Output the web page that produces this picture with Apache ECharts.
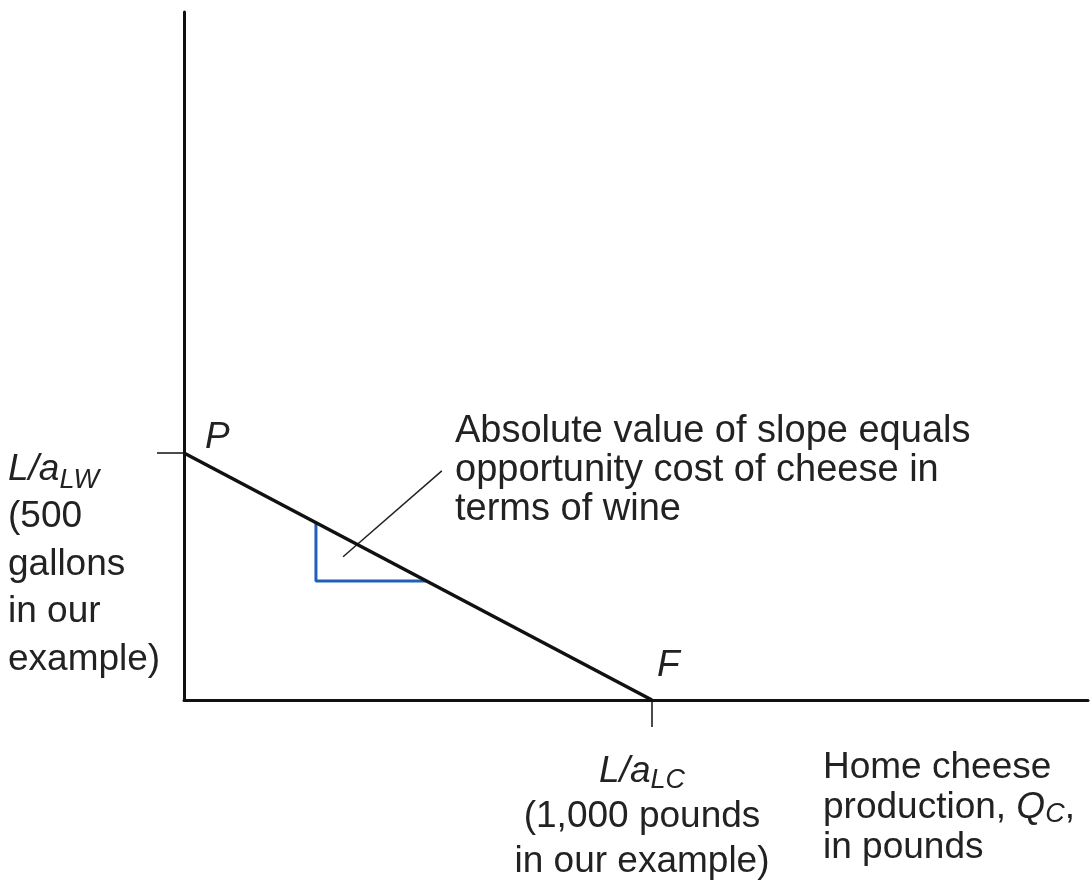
<!DOCTYPE html>
<html>
<head>
<meta charset="utf-8">
<script src="https://cdn.jsdelivr.net/npm/echarts@6/dist/echarts.min.js"></script>
<style>
  html, body { margin: 0; padding: 0; background: #fff; }
  #chart { width: 1090px; height: 882px; }
</style>
</head>
<body>
<div id="chart"></div>
<script>
// production possibility frontier, Home (cheese on x, wine on y)
const ppf = [[0, 500], [1000, 0]];
// blue slope triangle under the frontier
const slopeTriangle = [[282, 359], [282, 241], [518, 241]];
// leader line from the annotation to the triangle
const leader = [[340, 290], [551, 464]];
const xTicks = [1000];
const yTicks = [500];
const xMax = 1932;
const yMax = 1393;

const font = '"Liberation Sans", Arial, Helvetica, sans-serif';
const fs = 37;

const chart = echarts.init(document.getElementById('chart'));

const option = {
  backgroundColor: '#fff',
  animation: false,
  grid: { left: 184, right: 2, top: 12, bottom: 182 },
  xAxis: {
    type: 'value',
    min: 0,
    max: xMax,
    splitLine: { show: false },
    axisLine: { show: true, lineStyle: { color: '#111', width: 3 } },
    axisTick: { show: true, customValues: xTicks, length: 27, lineStyle: { color: '#111', width: 1.5 } },
    axisLabel: { show: false }
  },
  yAxis: {
    type: 'value',
    min: 0,
    max: yMax,
    splitLine: { show: false },
    axisLine: { show: true, lineStyle: { color: '#111', width: 3 } },
    axisTick: { show: true, customValues: yTicks, length: 27, lineStyle: { color: '#111', width: 1.5 } },
    axisLabel: { show: false }
  },
  series: [
    {
      type: 'line',
      data: ppf,
      symbol: 'none',
      lineStyle: { color: '#111', width: 3.5 },
      z: 5
    },
    {
      type: 'line',
      data: slopeTriangle,
      symbol: 'none',
      lineStyle: { color: '#1f5fb8', width: 3 },
      z: 3
    },
    {
      type: 'line',
      data: leader,
      symbol: 'none',
      lineStyle: { color: '#222', width: 1.5 },
      z: 4
    }
  ],
  graphic: [
    {
      type: 'text', left: 455, top: 412,
      style: {
        text: 'Absolute value of slope equals\nopportunity cost of cheese in\nterms of wine',
        font: '38px ' + font, fill: '#222', lineHeight: 39
      }
    },
    {
      type: 'text', left: 205, top: 419,
      style: { text: 'P', font: 'italic ' + fs + 'px ' + font, fill: '#222' }
    },
    {
      type: 'text', left: 657, top: 647,
      style: { text: 'F', font: 'italic ' + fs + 'px ' + font, fill: '#222' }
    },
    {
      type: 'text', left: 8, top: 446,
      style: {
        text: '{i|L/a}{s|LW}\n(500\ngallons\nin our\nexample)',
        font: fs + 'px ' + font, fill: '#222', lineHeight: 47.5,
        rich: {
          i: { fontStyle: 'italic', fontSize: fs, fontFamily: font, lineHeight: 47.5, fill: '#222' },
          s: { fontStyle: 'italic', fontSize: 27, fontFamily: font, lineHeight: 22, verticalAlign: 'bottom', fill: '#222' }
        }
      }
    },
    {
      type: 'text', x: 642, y: 749,
      style: {
        text: '{i|L/a}{s|LC}\n(1,000 pounds\nin our example)',
        font: fs + 'px ' + font, fill: '#222', lineHeight: 45, align: 'center',
        rich: {
          i: { fontStyle: 'italic', fontSize: fs, fontFamily: font, lineHeight: 45, fill: '#222' },
          s: { fontStyle: 'italic', fontSize: 27, fontFamily: font, lineHeight: 20, verticalAlign: 'bottom', fill: '#222' }
        }
      }
    },
    {
      type: 'text', left: 823, top: 748,
      style: {
        text: 'Home cheese\n{n|production, }{i|Q}{s|C}{n|,}\nin pounds',
        font: fs + 'px ' + font, fill: '#222', lineHeight: 40,
        rich: {
          n: { fontSize: fs, fontFamily: font, lineHeight: 40, fill: '#222' },
          i: { fontStyle: 'italic', fontSize: fs, fontFamily: font, lineHeight: 40, fill: '#222' },
          s: { fontStyle: 'italic', fontSize: 27, fontFamily: font, lineHeight: 4, verticalAlign: 'bottom', fill: '#222' }
        }
      }
    }
  ]
};

chart.setOption(option);
</script>
</body>
</html>
